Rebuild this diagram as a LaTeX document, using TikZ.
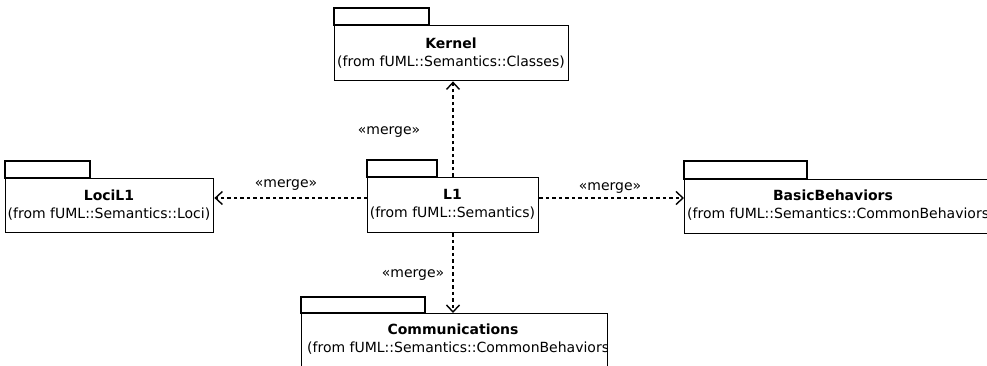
\documentclass[tikz,border=0pt]{standalone}
\usepackage{fontspec}
\setmainfont{DejaVu Sans}
\usetikzlibrary{arrows.meta}
\begin{document}
\begin{tikzpicture}[x=1pt,y=-1pt,
  body/.style={draw,line width=1.4pt,inner sep=0pt,anchor=north west},
  tabbox/.style={draw,line width=1.4pt},
  nm/.style={font=\fontsize{14}{16}\selectfont\bfseries,inner sep=0pt},
  fr/.style={font=\fontsize{14}{16}\selectfont,inner sep=0pt},
  lbl/.style={font=\fontsize{14}{16}\selectfont,inner sep=0pt},
  dep/.style={line width=1.4pt,dash pattern=on 3.5pt off 3pt,
    -{Straight Barb[length=7pt,width=13pt,line width=1.4pt]}}]
\useasboundingbox (0,0) rectangle (987,366);
% Kernel
\draw[tabbox] (334,8) rectangle (429,25);
\node[body,minimum width=234pt,minimum height=55pt] (kernel) at (334,25) {};
\node[nm] (kernelN) at (451,43) {Kernel};
\node[fr] (kernelF) at (451,62) {(from fUML::Semantics::Classes)};
% LociL1
\draw[tabbox] (5,161) rectangle (90,178);
\node[body,minimum width=208pt,minimum height=54pt] (loci) at (5,178) {};
\begin{scope}
\clip (5,178) rectangle (213,232);
\node[nm] (lociN) at (109,195) {LociL1};
\node[fr] (lociF) at (109,214) {(from fUML::Semantics::Loci)};
\end{scope}
% L1
\draw[tabbox] (367,160) rectangle (437,177);
\node[body,minimum width=171pt,minimum height=55pt] (l1) at (367,177) {};
\node[nm] (l1N) at (452.5,194) {L1};
\node[fr] (l1F) at (452.5,213) {(from fUML::Semantics)};
% BasicBehaviors
\draw[tabbox] (684,161) rectangle (807,179);
\node[body,minimum width=310pt,minimum height=54pt] (basic) at (684,179) {};
\begin{scope}
\clip (684,179) rectangle (994,233);
\node[nm] (basicN) at (833,195) {BasicBehaviors};
\node[fr,anchor=west] (basicF) at (687,214) {(from fUML::Semantics::CommonBehaviors)};
\end{scope}
% Communications
\draw[tabbox] (301,297) rectangle (425,313);
\node[body,minimum width=306pt,minimum height=70pt] (comm) at (301,313) {};
\begin{scope}
\clip (301,313) rectangle (607,383);
\node[nm] (commN) at (453,329) {Communications};
\node[fr,anchor=west] (commF) at (307,348) {(from fUML::Semantics::CommonBehaviors)};
\end{scope}
% connectors
\coordinate (vx) at (453,0);
\coordinate (hy) at (0,198);
\draw[dep] (l1.north -| vx) -- (kernel.south -| vx);
\draw[dep] (l1.south -| vx) -- (comm.north -| vx);
\draw[dep] (l1.west |- hy) -- (loci.east |- hy);
\draw[dep] (l1.east |- hy) -- (basic.west |- hy);
% labels
\node[lbl] (m1) at (389,132) {«merge»};
\node[lbl] (m2) at (286,185) {«merge»};
\node[lbl] (m3) at (610,188) {«merge»};
\node[lbl] (m4) at (413,275) {«merge»};
\end{tikzpicture}
\end{document}
